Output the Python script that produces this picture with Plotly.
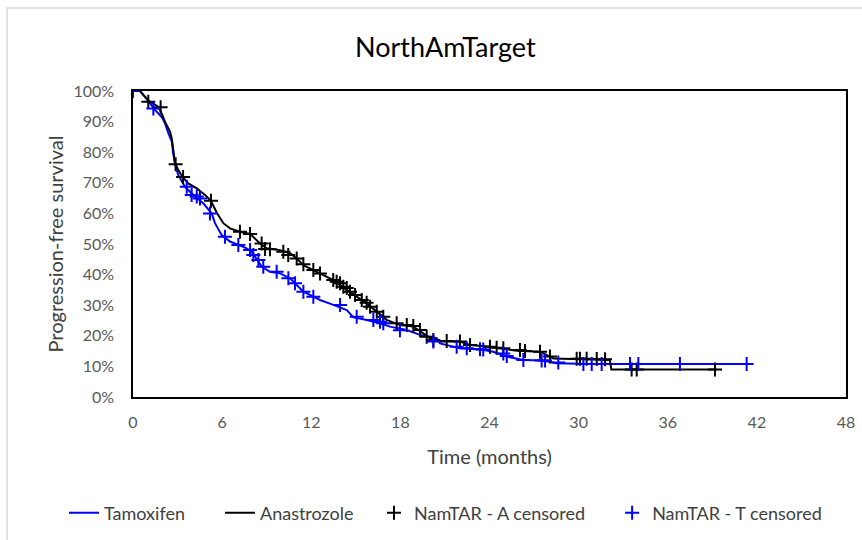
import plotly.graph_objects as go

# Kaplan-Meier curves (months, % progression-free)
tam_t = [0, 0.47, 0.81, 1.14, 1.48, 1.93, 2.15, 2.38, 2.61, 2.71, 2.83, 3.05, 3.5, 4.17, 4.73,
         5.30, 5.52, 5.97, 6.53, 7.09, 7.65, 7.99, 8.33, 8.66, 9.22, 9.90, 10.57, 10.9, 11.47,
         12.14, 12.59, 13.49, 14.39, 14.84, 15.51, 16.63, 17.30, 18.43, 19.32, 20.45, 20.67,
         22.01, 23.36, 24.25, 25.16, 26.28, 27.6, 28.5, 30.76, 41.4]
tam_s = [100, 100, 98.1, 96.0, 93.8, 91.5, 89.5, 86.2, 83.5, 79.5, 76.0, 72.5, 68.7, 65.5, 63.3,
         60.0, 56.8, 52.9, 50.8, 49.7, 48.6, 47.5, 44.8, 42.6, 40.9, 40.4, 38.8, 37.2, 34.4,
         32.8, 31.7, 30.1, 28.4, 26.0, 25.4, 24.1, 23.0, 21.9, 20.3, 19.2, 17.5,
         15.9, 15.6, 14.8, 13.2, 12.1, 11.9, 11.0, 10.8, 10.8]

ana_t = [0, 0.47, 0.81, 1.14, 1.70, 1.93, 2.15, 2.49, 2.61, 2.71, 2.83, 3.05, 3.32, 3.72, 4.29,
         4.85, 5.25, 5.63, 6.08, 6.53, 7.20, 7.88, 8.55, 9.00, 9.90, 10.57, 11.02, 11.47, 12.14,
         12.81, 13.49, 14.39, 15.06, 15.73, 16.41, 17.08, 17.97, 18.87, 19.54, 20.0, 20.67,
         22.01, 22.69, 24.03, 25.83, 27.40, 28.3, 30.76, 32.1, 32.2, 39.3]
ana_s = [100, 100, 98.1, 96.5, 94.9, 92.7, 90.0, 86.7, 84.5, 80.2, 76.4, 74.2, 72.0, 69.8, 68.2,
         66.0, 64.1, 60.3, 56.8, 55.1, 54.0, 53.3, 50.2, 48.6, 48.0, 47.0, 45.3, 43.1, 41.5,
         39.9, 38.2, 35.0, 32.8, 30.6, 27.9, 25.2, 23.5, 23.0, 20.8, 19.2, 18.1,
         18.1, 17.0, 16.4, 15.1, 14.8, 12.6, 12.3, 12.1, 9.0, 9.0]

# Censored observations
a_cens_t = [1.03, 1.86, 2.87, 3.37, 5.25, 7.20, 7.88, 8.66, 8.89, 9.22, 10.12, 10.45, 11.02,
            11.47, 12.14, 12.59, 13.48, 13.71, 13.94, 14.16, 14.39, 14.61, 14.95, 15.40, 15.73,
            15.96, 16.41, 16.85, 17.75, 18.43, 18.87, 19.32, 19.77, 20.22, 21.12, 22.01, 22.69,
            24.03, 24.48, 24.93, 26.05, 26.39, 27.40, 28.07, 29.87, 30.09, 30.54, 31.22, 31.78,
            33.57, 33.91, 39.18]
a_cens_s = [96.5, 94.7, 76.1, 71.9, 64.1, 54.0, 53.3, 50.2, 48.4, 48.3, 47.5, 46.4, 45.3,
            43.4, 41.5, 40.4, 38.2, 37.7, 37.2, 36.0, 35.6, 34.4, 33.3, 31.7, 30.8,
            29.5, 27.9, 26.2, 24.1, 23.5, 23.2, 21.9, 19.7, 18.6, 18.3, 18.1, 17.0,
            16.4, 16.1, 15.9, 15.4, 15.0, 14.8, 13.2, 12.5, 12.5, 12.5, 12.4, 12.3,
            9.0, 9.0, 9.0]

t_cens_t = [0, 1.37, 3.62, 3.95, 4.29, 4.51, 5.18, 6.19, 7.09, 7.88, 8.10, 8.44, 8.77, 9.67,
            10.46, 10.91, 11.47, 12.14, 13.94, 15.06, 16.18, 16.63, 16.85, 17.97, 20.22, 21.79,
            22.47, 23.36, 23.58, 24.93, 25.16, 26.28, 27.51, 27.74, 28.63, 30.32, 30.88, 31.55,
            33.46, 34.02, 36.82, 41.31]
t_cens_s = [100, 94.3, 68.7, 66.0, 65.5, 64.9, 60.0, 52.4, 49.7, 48.0, 46.4, 44.8, 42.6, 40.9,
            38.8, 37.2, 34.4, 32.8, 30.1, 26.2, 25.2, 24.6, 24.1, 21.8, 18.1, 16.4,
            15.9, 15.6, 15.5, 14.2, 13.4, 12.1, 11.9, 11.9, 11.3, 10.8, 10.8, 10.8,
            10.8, 10.8, 10.8, 10.8]

x_ticks = [0, 6, 12, 18, 24, 30, 36, 42, 48]
y_ticks = [0, 10, 20, 30, 40, 50, 60, 70, 80, 90, 100]

FONT = "Lato"
GREY = "#595959"
DARK = "#404040"

fig = go.Figure()
fig.add_trace(go.Scatter(x=tam_t, y=tam_s, mode="lines", name="Tamoxifen", legend="legend",
                         line=dict(color="#0000FF", width=2)))
fig.add_trace(go.Scatter(x=ana_t, y=ana_s, mode="lines", name="Anastrozole", legend="legend2",
                         line=dict(color="#000000", width=2)))
fig.add_trace(go.Scatter(x=a_cens_t, y=a_cens_s, mode="markers", name="NamTAR - A censored",
                         legend="legend3",
                         marker=dict(symbol="cross-thin", size=10, color="#000000",
                                     line=dict(color="#000000", width=2))))
fig.add_trace(go.Scatter(x=t_cens_t, y=t_cens_s, mode="markers", name="NamTAR - T censored",
                         legend="legend4",
                         marker=dict(symbol="cross-thin", size=10, color="#0000FF",
                                     line=dict(color="#0000FF", width=2))))

LEG_Y = -0.379
leg_common = dict(orientation="h", y=LEG_Y, yanchor="middle", xanchor="left",
                  font=dict(family=FONT, size=18, color=DARK), itemwidth=30,
                  bgcolor="rgba(0,0,0,0)")

fig.update_layout(
    width=862, height=540,
    margin=dict(l=133, r=16, t=91, b=143, autoexpand=False),
    paper_bgcolor="white", plot_bgcolor="white",
    font=dict(family=FONT, size=16, color=GREY),
    showlegend=True,
    legend=dict(x=-0.0968, **leg_common),
    legend2=dict(x=0.122, **leg_common),
    legend3=dict(x=0.338, **leg_common),
    legend4=dict(x=0.672, **leg_common),
    annotations=[dict(text="NorthAmTarget", xref="paper", yref="paper",
                      x=0.4376, y=1.144, xanchor="center", yanchor="middle",
                      showarrow=False, font=dict(family=FONT, size=27, color="#000000"))],
    shapes=[dict(type="rect", xref="paper", yref="paper",
                 x0=-0.1767, y0=-0.6, x1=1.3, y1=1.271,
                 line=dict(color="#D9D9D9", width=1.5), layer="below")],
)
fig.update_xaxes(range=[0, 48], tickvals=x_ticks, ticktext=[str(v) for v in x_ticks],
                 showgrid=False, zeroline=False, showline=True, mirror=True,
                 linecolor="#000000", linewidth=1.5, ticklabelstandoff=10, automargin=False,
                 tickfont=dict(family=FONT, size=16, color=GREY),
                 title=dict(text="Time (months)", standoff=20,
                            font=dict(family=FONT, size=20, color=DARK)))
fig.update_yaxes(range=[0, 100], tickvals=y_ticks, ticktext=[f"{v}%" for v in y_ticks],
                 showgrid=False, zeroline=False, showline=True, mirror=True,
                 linecolor="#000000", linewidth=1.5, ticklabelstandoff=14, automargin=False,
                 tickfont=dict(family=FONT, size=16, color=GREY),
                 title=dict(text="Progression-free survival", standoff=4,
                            font=dict(family=FONT, size=20, color=DARK)))

fig.write_html("out.html")
